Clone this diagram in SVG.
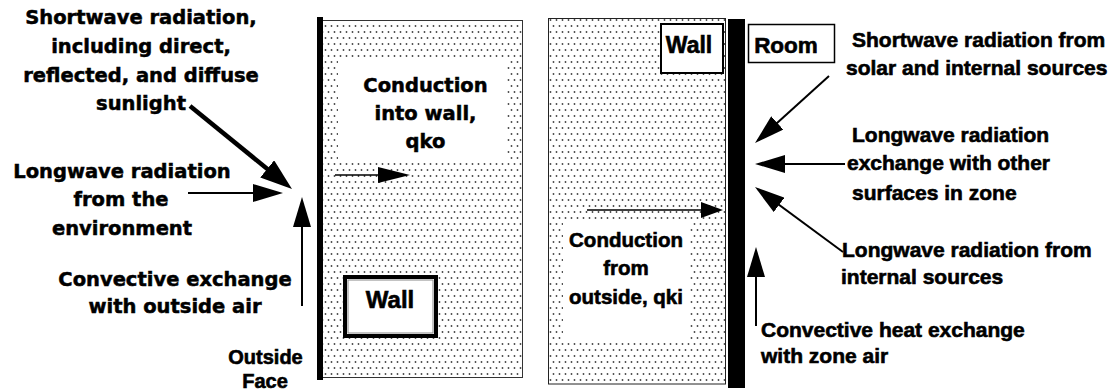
<svg xmlns="http://www.w3.org/2000/svg" width="1112" height="390" viewBox="0 0 1112 390">
<style>
.tl{font-family:"DejaVu Sans",sans-serif;font-weight:bold;font-size:19.5px;fill:#000;stroke:#000;stroke-width:0.5px;text-anchor:middle}
.tr{font-family:"Liberation Sans",Arial,sans-serif;font-weight:bold;font-size:21px;fill:#000;stroke:#000;stroke-width:0.6px}
.tc{font-family:"Liberation Sans",Arial,sans-serif;font-weight:bold;font-size:20.5px;fill:#000;stroke:#000;stroke-width:0.6px;text-anchor:middle}
.lbl{font-family:"Liberation Sans",Arial,sans-serif;font-weight:bold;fill:#000;stroke:#000;stroke-width:0.6px;text-anchor:middle}
.ar{stroke:#000;stroke-width:2;fill:none}
</style>
<defs>
<pattern id="dots" width="6" height="12" patternUnits="userSpaceOnUse">
<rect width="6" height="12" fill="#fff"/>
<circle cx="1.5" cy="2" r="0.9" fill="#444"/>
<circle cx="4.5" cy="8" r="0.9" fill="#444"/>
</pattern>
<marker id="big" markerUnits="userSpaceOnUse" markerWidth="32" markerHeight="22" refX="24" refY="11" orient="auto"><path d="M0,0 L32,11 L0,22 z" fill="#000"/></marker>
<marker id="ah" markerUnits="userSpaceOnUse" markerWidth="30" markerHeight="18" refX="26" refY="9" orient="auto"><path d="M0,0 L30,9 L0,18 z" fill="#000"/></marker>
<marker id="mid" markerUnits="userSpaceOnUse" markerWidth="32" markerHeight="16" refX="28" refY="8" orient="auto"><path d="M0,0 L32,8 L0,16 z" fill="#000"/></marker>
<marker id="sm" markerUnits="userSpaceOnUse" markerWidth="22" markerHeight="16" refX="19" refY="8" orient="auto"><path d="M0,0 L22,8 L0,16 z" fill="#000"/></marker>
</defs>
<rect width="1112" height="390" fill="#fff"/>

<g id="outer-wall">
<rect x="320.5" y="20.5" width="202" height="357" fill="url(#dots)" stroke="#333" stroke-width="1"/>
<rect x="317" y="17" width="6" height="363" fill="#000"/>
<rect x="338" y="60" width="169" height="102" fill="#fff"/>
<text class="tl" x="425.5" y="92">Conduction</text>
<text class="tl" x="425.5" y="120">into wall,</text>
<text class="tl" x="425.5" y="148">qko</text>
</g>
<g id="wall-label-left">
<rect x="345" y="277" width="91" height="59" fill="#fff" stroke="#000" stroke-width="4"/>
<rect x="348" y="280" width="85" height="53" fill="none" stroke="#888" stroke-width="1"/>
<text class="lbl" x="390" y="308" font-size="24">Wall</text>
</g>

<g id="inner-wall">
<rect x="548.5" y="18.5" width="177" height="365.5" fill="url(#dots)" stroke="#222" stroke-width="1"/>
<rect x="563" y="222" width="127" height="121" fill="#fff"/>
<text class="tc" x="626" y="247">Conduction</text>
<text class="tc" x="626" y="275">from</text>
<text class="tc" x="626" y="304">outside, qki</text>
<rect x="728" y="19" width="17" height="369" fill="#000"/>
</g>
<g id="wall-label-right">
<rect x="661" y="24" width="62" height="49" fill="#fff" stroke="#000" stroke-width="2"/>
<text class="lbl" x="689" y="53" font-size="23">Wall</text>
</g>
<g id="room-label">
<rect x="748.5" y="24.5" width="86" height="38" fill="#fff" stroke="#000" stroke-width="1.5"/>
<text class="lbl" x="786" y="53" font-size="22.5">Room</text>
</g>

<g id="label-shortwave-out">
<text class="tl" x="141" y="24">Shortwave radiation,</text>
<text class="tl" x="141" y="53">including direct,</text>
<text class="tl" x="141" y="82">reflected, and diffuse</text>
<text class="tl" x="141" y="110">sunlight</text>
</g>
<g id="label-longwave-out">
<text class="tl" x="122" y="178">Longwave radiation</text>
<text class="tl" x="121" y="206">from the</text>
<text class="tl" x="122" y="235">environment</text>
</g>
<g id="label-convective-out">
<text class="tl" x="175" y="286">Convective exchange</text>
<text class="tl" x="175" y="313">with outside air</text>
</g>
<g id="label-outside-face">
<text class="lbl" x="265.5" y="364" font-size="20">Outside</text>
<text class="lbl" x="265" y="388" font-size="20">Face</text>
</g>

<g id="label-shortwave-in">
<text class="tr" x="852" y="47">Shortwave radiation from</text>
<text class="tr" x="846" y="75">solar and internal sources</text>
</g>
<g id="label-longwave-exchange">
<text class="tr" x="852" y="142">Longwave radiation</text>
<text class="tr" x="847" y="170">exchange with other</text>
<text class="tr" x="852" y="200">surfaces in zone</text>
</g>
<g id="label-longwave-internal">
<text class="tr" x="842" y="257">Longwave radiation from</text>
<text class="tr" x="841" y="284">internal sources</text>
</g>
<g id="label-convective-in">
<text class="tr" x="761" y="337">Convective heat exchange</text>
<text class="tr" x="761" y="363">with zone air</text>
</g>

<g id="connectors">
<line x1="190" y1="106" x2="285.8" y2="184" stroke="#000" stroke-width="4.5" marker-end="url(#big)"/>
<line class="ar" x1="188" y1="193" x2="279" y2="193" marker-end="url(#ah)"/>
<line class="ar" x1="302" y1="306" x2="302" y2="201" marker-end="url(#ah)"/>
<line x1="335" y1="175" x2="406" y2="175" stroke="#000" stroke-width="1.5" marker-end="url(#mid)"/>
<line x1="587" y1="210" x2="720" y2="210" stroke="#000" stroke-width="1.5" marker-end="url(#sm)"/>
<line class="ar" x1="829" y1="76" x2="758" y2="140.3" marker-end="url(#ah)"/>
<line class="ar" x1="845" y1="164" x2="759" y2="164" marker-end="url(#ah)"/>
<line class="ar" x1="843" y1="252" x2="758.2" y2="189.4" marker-end="url(#ah)"/>
<line class="ar" x1="756" y1="326" x2="756" y2="251" marker-end="url(#ah)"/>
</g>
</svg>
